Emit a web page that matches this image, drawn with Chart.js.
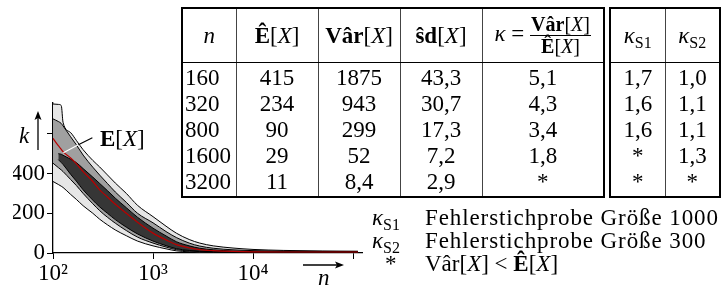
<!DOCTYPE html>
<html>
<head>
<meta charset="utf-8">
<script src="https://cdn.jsdelivr.net/npm/chart.js@4.4.0/dist/chart.umd.min.js"></script>
<style>
  body { margin:0; width:725px; height:292px; overflow:hidden; background:#fff; position:relative;
         font-family:"Liberation Serif","DejaVu Serif",serif; font-size:23px; color:#000; }
  #plot { position:absolute; left:0; top:0; }
  .lbl { position:absolute; white-space:nowrap; line-height:23px; }
  i { font-style:italic; }
  table.tb { position:absolute; top:7px; border-collapse:collapse; table-layout:fixed; border:2px solid #000; }
  table.tb td { padding:0; text-align:center; border-left:1px solid #444; height:26px; line-height:26px; white-space:nowrap; }
  table.tb tr.hd td { height:53px; line-height:26px; border-bottom:1.5px solid #000; }
  table.tb tr.first td { padding-top:2px; }
  table.tb tr.last td { padding-bottom:1px; }
  table.tb td.left { text-align:left; padding-left:2px; }
  .frac { display:inline-block; vertical-align:middle; font-size:20px; line-height:21px; text-align:center; }
  .frac .num { display:block; border-bottom:1px solid #000; padding:0 1px; }
  .frac .den { display:block; }
  sub { font-size:16px; vertical-align:-5px; line-height:0; }
  .legend { letter-spacing:0.9px; }
</style>
</head>
<body>
<canvas id="plot" width="380" height="292"></canvas>

<table class="tb" id="t1" style="left:181px;width:422px">
  <colgroup><col style="width:54px"><col style="width:82px"><col style="width:82px"><col style="width:82px"><col style="width:122px"></colgroup>
  <tr class="hd">
    <td><i>n</i></td>
    <td><b>Ê</b>[<i>X</i>]</td>
    <td><b>Vâr</b>[<i>X</i>]</td>
    <td><b>ŝd</b>[<i>X</i>]</td>
    <td><i>κ</i> = <span class="frac"><span class="num"><b>Vâr</b>[<i>X</i>]</span><span class="den"><b>Ê</b>[<i>X</i>]</span></span></td>
  </tr>
</table>

<table class="tb" id="t2" style="left:609px;width:110px">
  <colgroup><col style="width:55px"><col style="width:55px"></colgroup>
  <tr class="hd">
    <td><i>κ</i><sub>S1</sub></td>
    <td><i>κ</i><sub>S2</sub></td>
  </tr>
</table>

<div class="lbl" style="left:19px;top:124px"><i>k</i></div>
<div class="lbl" style="left:100px;top:127px"><b>E</b>[<i>X</i>]</div>
<div class="lbl" style="left:318px;top:266px"><i>n</i></div>

<div class="lbl" style="left:372px;top:206px"><i>κ</i><sub>S1</sub></div>
<div class="lbl legend" style="left:425px;top:206px">Fehlerstichprobe Größe 1000</div>
<div class="lbl" style="left:372px;top:229px"><i>κ</i><sub>S2</sub></div>
<div class="lbl legend" style="left:425px;top:229px">Fehlerstichprobe Größe 300</div>
<div class="lbl" style="left:385px;top:252px">*</div>
<div class="lbl" style="left:425px;top:252px">Vâr[<i>X</i>] &lt; <b>Ê</b>[<i>X</i>]</div>

<script>
// table values
const tabN     = ['160', '320', '800', '1600', '3200'];
const tabE     = ['415', '234', '90', '29', '11'];
const tabVar   = ['1875', '943', '299', '52', '8,4'];
const tabSd    = ['43,3', '30,7', '17,3', '7,2', '2,9'];
const tabKappa = ['5,1', '4,3', '3,4', '1,8', '*'];
const tabKS1   = ['1,7', '1,6', '1,6', '*', '*'];
const tabKS2   = ['1,0', '1,1', '1,1', '1,3', '*'];

// curve samples (n on log axis, k values)
const nAll   = [100, 113, 121, 126, 150, 171, 200, 250, 293, 350, 420, 541, 700, 1000, 1350, 1710, 2300, 2930, 4000, 6310, 10000, 20000, 50000, 112000];
const outHigh = [750, 748, 742, 658, 606, 567, 520, 466, 433, 393, 352, 300, 240, 183, 135, 100, 68, 50, 36, 25, 18, 13, 10, 9];
const midHigh = [675, 662, 652, 640, 585, 545, 493, 432, 392, 350, 307, 255, 200, 152, 108, 78, 50, 35, 24, 16, 12, 9, 8, 7];
const meanK   = [577, 540, 522, 510, 478, 450, 410, 360, 318, 282, 245, 200, 155, 100, 66, 42, 26, 17, 12, 8, 6, 5, 5, 5];
const midLow  = [452, 430, 418, 410, 370, 340, 300, 248, 213, 180, 150, 113, 80, 50, 30, 17, 10, 7, 5, 4, 3, 3, 3, 3];
const outLow  = [360, 345, 336, 330, 295, 270, 238, 200, 170, 142, 116, 87, 60, 36, 21, 11, 6, 4, 3, 2, 2, 2, 2, 2];

const nDark    = [113, 121, 126, 150, 171, 200, 250, 293, 350, 420, 541, 700, 1000, 1350, 1710, 2300, 2930, 4000, 6310, 10000, 20000, 50000, 112000];
const darkHigh = [500, 497, 492, 472, 455, 425, 382, 350, 314, 276, 228, 180, 125, 86, 57, 36, 24, 16, 10, 7, 6, 6, 6];
const darkLow  = [470, 455, 446, 396, 362, 318, 266, 232, 200, 168, 130, 96, 60, 37, 22, 13, 9, 6, 5, 4, 4, 4, 4];

const xTickVals = [100, 1000, 10000, 100000];
const xTickText = ['10²', '10³', '10⁴', ''];
const yTickVals = [0, 200, 400, 600];
const yTickText = ['0', '200', '400', ''];

// where the E[X] leader touches the red line
const leaderAt = [127, 505];

const fill = function(tb, cells, cls) {
    cells.forEach(function(row, i) {
        let tr = document.createElement('tr');
        if (i === 0) tr.className = 'first';
        if (i === cells.length - 1) tr.className = 'last';
        row.forEach(function(v, j) {
            let td = document.createElement('td');
            td.textContent = v;
            if (cls[j]) td.className = cls[j];
            tr.appendChild(td);
        });
        tb.appendChild(tr);
    });
};
fill(document.getElementById('t1'),
     tabN.map((v, i) => [v, tabE[i], tabVar[i], tabSd[i], tabKappa[i]]),
     ['left', '', '', '', '']);
fill(document.getElementById('t2'),
     tabKS1.map((v, i) => [v, tabKS2[i]]), ['', '']);

const pts = (xs, ys) => xs.map((x, i) => ({ x: x, y: ys[i] }));
const FONT = { family: 'Liberation Serif', size: 23 };

const arrow = function(ctx, x0, y0, x1, y1) {
    const a = Math.atan2(y1 - y0, x1 - x0);
    ctx.beginPath();
    ctx.moveTo(x0, y0);
    ctx.lineTo(x1 - 4 * Math.cos(a), y1 - 4 * Math.sin(a));
    ctx.stroke();
    ctx.beginPath();
    ctx.moveTo(x1, y1);
    ctx.lineTo(x1 - 9 * Math.cos(a) + 3.5 * Math.sin(a), y1 - 9 * Math.sin(a) - 3.5 * Math.cos(a));
    ctx.lineTo(x1 - 7 * Math.cos(a), y1 - 7 * Math.sin(a));
    ctx.lineTo(x1 - 9 * Math.cos(a) - 3.5 * Math.sin(a), y1 - 9 * Math.sin(a) + 3.5 * Math.cos(a));
    ctx.closePath();
    ctx.fill();
};

const decor = {
    id: 'decor',
    afterDatasetsDraw(chart) {
        const { ctx, chartArea: a, scales: { x, y } } = chart;
        ctx.save();
        const px = x.getPixelForValue(leaderAt[0]), py = y.getPixelForValue(leaderAt[1]);
        ctx.lineWidth = 1.2;
        ctx.strokeStyle = '#fff';
        ctx.beginPath(); ctx.moveTo(px, py); ctx.lineTo(px + 15, py - 8); ctx.stroke();
        ctx.strokeStyle = '#000';
        ctx.beginPath(); ctx.moveTo(px + 15, py - 8); ctx.lineTo(px + 29, py - 15); ctx.stroke();
        ctx.fillStyle = '#000';
        ctx.lineWidth = 1.3;
        arrow(ctx, a.left - 15, 150, a.left - 15, 111);
        arrow(ctx, 303, a.bottom + 12, 344, a.bottom + 12);
        ctx.restore();
    }
};

const band = (xs, ys, bg, fillTo) => ({
    data: pts(xs, ys), borderColor: '#000', borderWidth: 1,
    backgroundColor: bg, fill: fillTo, pointRadius: 0, cubicInterpolationMode: 'monotone'
});

new Chart(document.getElementById('plot').getContext('2d'), {
    type: 'line',
    data: {
        datasets: [
            { data: pts(nAll, meanK), borderColor: '#b80000', borderWidth: 1.2, fill: false,
              pointRadius: 0, cubicInterpolationMode: 'monotone' },
            band(nDark, darkHigh, '#363636', '+1'),
            band(nDark, darkLow, 'transparent', false),
            band(nAll, midHigh, '#a0a0a0', '+1'),
            band(nAll, midLow, 'transparent', false),
            band(nAll, outHigh, '#e6e6e6', '+1'),
            band(nAll, outLow, 'transparent', false)
        ]
    },
    options: {
        responsive: false,
        animation: false,
        devicePixelRatio: 1,
        layout: { padding: { left: 13, top: 103, right: 18, bottom: 0 } },
        plugins: {
            legend: { display: false },
            tooltip: { enabled: false },
            filler: { drawTime: 'beforeDatasetsDraw' }
        },
        scales: {
            x: {
                type: 'logarithmic', min: 100, max: 123000,
                afterBuildTicks: s => { s.ticks = xTickVals.map(v => ({ value: v })); },
                afterFit: s => { s.height = 39; },
                ticks: { callback: v => xTickText[xTickVals.indexOf(v)] ?? '', font: FONT, color: '#000',
                         padding: 1, maxRotation: 0, autoSkip: false },
                grid: { drawOnChartArea: false, tickLength: 6, color: '#000', lineWidth: 1 },
                border: { color: '#000', width: 1.3 }
            },
            y: {
                min: 0, max: 755,
                afterBuildTicks: s => { s.ticks = yTickVals.map(v => ({ value: v })); },
                afterFit: s => { s.width = 40; },
                ticks: { callback: v => yTickText[yTickVals.indexOf(v)] ?? '', font: FONT, color: '#000',
                         padding: 2, autoSkip: false },
                grid: { drawOnChartArea: false, tickLength: 6, color: '#000', lineWidth: 1 },
                border: { color: '#000', width: 1.3 }
            }
        }
    },
    plugins: [decor]
});
</script>
</body>
</html>
